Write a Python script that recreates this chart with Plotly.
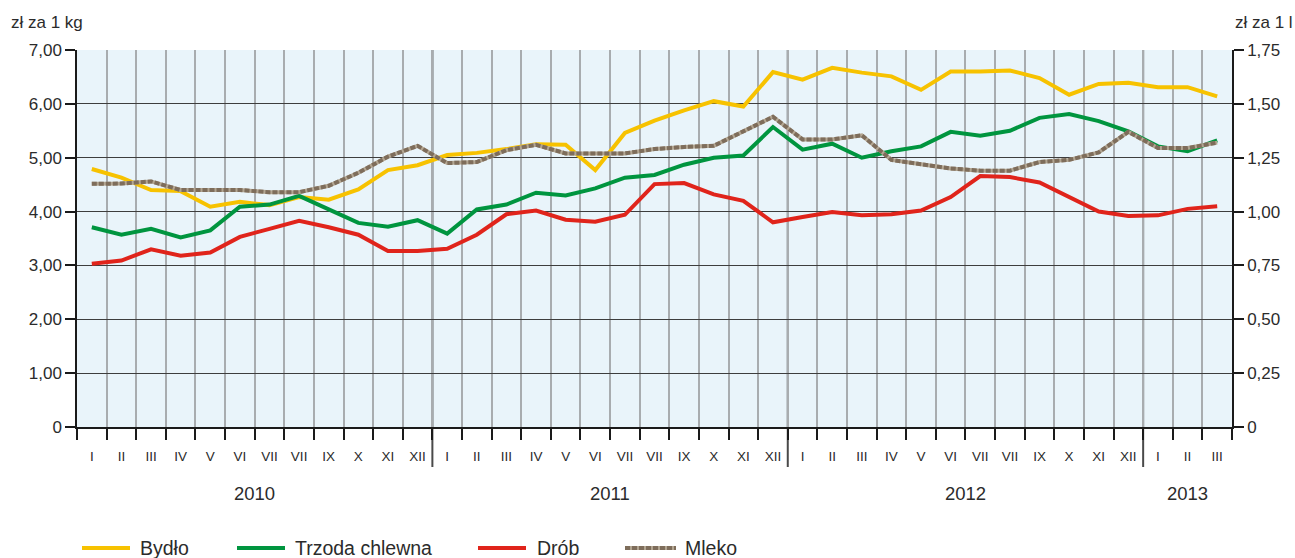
import plotly.graph_objects as go

# ---------------- data ----------------
months = ["I", "II", "III", "IV", "V", "VI", "VII", "VII", "IX", "X", "XI", "XII",
          "I", "II", "III", "IV", "V", "VI", "VII", "VII", "IX", "X", "XI", "XII",
          "I", "II", "III", "IV", "V", "VI", "VII", "VII", "IX", "X", "XI", "XII",
          "I", "II", "III"]
years = ["2010", "2011", "2012", "2013"]
months_per_year = [12, 12, 12, 3]

bydlo = [4.79, 4.63, 4.40, 4.38, 4.09, 4.18, 4.12, 4.27, 4.22, 4.41, 4.77, 4.86,
         5.05, 5.09, 5.16, 5.25, 5.24, 4.77, 5.46, 5.69, 5.88, 6.05, 5.95, 6.59,
         6.45, 6.67, 6.58, 6.51, 6.26, 6.60, 6.60, 6.62, 6.48, 6.17, 6.37, 6.39,
         6.31, 6.31, 6.14]
trzoda = [3.71, 3.57, 3.68, 3.52, 3.65, 4.09, 4.13, 4.29, 4.04, 3.79, 3.72, 3.84,
          3.59, 4.04, 4.13, 4.35, 4.30, 4.43, 4.63, 4.68, 4.87, 5.00, 5.04, 5.57,
          5.15, 5.26, 5.00, 5.12, 5.21, 5.48, 5.41, 5.50, 5.74, 5.81, 5.68, 5.49,
          5.21, 5.12, 5.32]
drob = [3.03, 3.09, 3.30, 3.18, 3.24, 3.53, 3.68, 3.83, 3.71, 3.57, 3.27, 3.27,
        3.31, 3.57, 3.95, 4.02, 3.85, 3.81, 3.94, 4.51, 4.53, 4.32, 4.20, 3.80,
        3.90, 3.99, 3.93, 3.95, 4.02, 4.27, 4.66, 4.64, 4.54, 4.27, 4.00, 3.92,
        3.93, 4.05, 4.10]
mleko = [1.129, 1.13, 1.14, 1.10, 1.10, 1.10, 1.09, 1.09, 1.12, 1.18, 1.255, 1.305,
         1.225, 1.23, 1.285, 1.31, 1.27, 1.27, 1.27, 1.29, 1.30, 1.305, 1.37, 1.44,
         1.335, 1.335, 1.354, 1.24, 1.22, 1.20, 1.19, 1.19, 1.23, 1.24, 1.275, 1.37,
         1.295, 1.295, 1.32]

left_ticks = [0, 1, 2, 3, 4, 5, 6, 7]
left_ticktext = ["0", "1,00", "2,00", "3,00", "4,00", "5,00", "6,00", "7,00"]
right_ticks = [0, 0.25, 0.5, 0.75, 1.0, 1.25, 1.5, 1.75]
right_ticktext = ["0", "0,25", "0,50", "0,75", "1,00", "1,25", "1,50", "1,75"]

series_names = ["Bydło", "Trzoda chlewna", "Drób", "Mleko"]

# ---------------- styles ----------------
C_BYDLO = "#f7c200"
C_TRZODA = "#00953f"
C_DROB = "#e0241b"
C_MLEKO_BASE = "#b3a692"
C_MLEKO_DOT = "#7e6d5b"
FONT = "Liberation Sans, Arial, sans-serif"
TXT = "#2b2b2b"

W, H = 1295, 558
ML, MR, MT, MB = 77, 63, 50, 131
PW = W - ML - MR
PH = H - MT - MB

x = list(range(len(months)))

fig = go.Figure()
fig.add_trace(go.Scatter(x=x, y=mleko, yaxis="y2", mode="lines",
                         line=dict(color=C_MLEKO_BASE, width=4), showlegend=False,
                         hoverinfo="skip"))
fig.add_trace(go.Scatter(x=x, y=mleko, yaxis="y2", mode="lines", name="Mleko",
                         line=dict(color=C_MLEKO_DOT, width=4, dash="5px,2px"),
                         showlegend=False))
fig.add_trace(go.Scatter(x=x, y=bydlo, mode="lines", name="Bydło",
                         line=dict(color=C_BYDLO, width=4), showlegend=False))
fig.add_trace(go.Scatter(x=x, y=trzoda, mode="lines", name="Trzoda chlewna",
                         line=dict(color=C_TRZODA, width=4), showlegend=False))
fig.add_trace(go.Scatter(x=x, y=drob, mode="lines", name="Drób",
                         line=dict(color=C_DROB, width=4), showlegend=False))

shapes = []
annotations = []

# year separators and year labels
start = 0
for yr, n in zip(years, months_per_year):
    end = start + n
    if end < len(months):
        shapes.append(dict(type="line", xref="x", yref="paper",
                           x0=end - 0.5, x1=end - 0.5, y0=-(467 - 427) / PH, y1=1,
                           line=dict(color="#4a4a4a", width=2), layer="below"))
    annotations.append(dict(text=yr, xref="x", yref="paper",
                            x=(start + end - 1) / 2, y=-(493 - 427) / PH,
                            showarrow=False, xanchor="center", yanchor="middle",
                            font=dict(family=FONT, size=18.5, color=TXT)))
    start = end

# axis unit titles
annotations.append(dict(text="zł za 1 kg", xref="paper", yref="paper",
                        x=(9 - ML) / PW, y=(427 - 23) / PH, showarrow=False,
                        xanchor="left", yanchor="middle",
                        font=dict(family=FONT, size=17, color=TXT)))
annotations.append(dict(text="zł za 1 l", xref="paper", yref="paper",
                        x=(1233 - ML) / PW, y=(427 - 23) / PH, showarrow=False,
                        xanchor="left", yanchor="middle",
                        font=dict(family=FONT, size=17, color=TXT)))

# manual legend
leg_y = -(548 - 427) / PH
leg_items = [(82, 130, 138, C_BYDLO), (237, 285, 293, C_TRZODA),
             (478, 526, 535, C_DROB), (625, 676, 683, C_MLEKO_DOT)]
for name, (x0, x1, xt, col) in zip(series_names, leg_items):
    if name == "Mleko":
        shapes.append(dict(type="line", xref="paper", yref="paper",
                           x0=(x0 - ML) / PW, x1=(x1 - ML) / PW, y0=leg_y, y1=leg_y,
                           line=dict(color=C_MLEKO_BASE, width=4)))
        shapes.append(dict(type="line", xref="paper", yref="paper",
                           x0=(x0 - ML) / PW, x1=(x1 - ML) / PW, y0=leg_y, y1=leg_y,
                           line=dict(color=C_MLEKO_DOT, width=4, dash="5px,2px")))
    else:
        shapes.append(dict(type="line", xref="paper", yref="paper",
                           x0=(x0 - ML) / PW, x1=(x1 - ML) / PW, y0=leg_y, y1=leg_y,
                           line=dict(color=col, width=4)))
    annotations.append(dict(text=name, xref="paper", yref="paper",
                            x=(xt - ML) / PW, y=leg_y, showarrow=False,
                            xanchor="left", yanchor="middle",
                            font=dict(family=FONT, size=19.5, color=TXT)))

fig.update_layout(
    width=W, height=H,
    margin=dict(l=ML, r=MR, t=MT, b=MB, pad=0),
    paper_bgcolor="white",
    plot_bgcolor="#e9f4fa",
    font=dict(family=FONT, color=TXT),
    showlegend=False,
    shapes=shapes,
    annotations=annotations,
    xaxis=dict(
        range=[-0.5, len(months) - 0.5],
        tickmode="array", tickvals=x, ticktext=months,
        ticks="outside", ticklen=16, tickcolor="rgba(0,0,0,0)",
        tickfont=dict(family=FONT, size=13.5, color=TXT),
        showgrid=False, zeroline=False,
        showline=True, linecolor="#1a1a1a", linewidth=1.5,
        minor=dict(tickmode="array", tickvals=[i - 0.5 for i in range(len(months) + 1)],
                   ticks="outside", ticklen=11, tickcolor="#1a1a1a", tickwidth=1.5,
                   showgrid=True, gridcolor="#a8acaf", gridwidth=1.5),
        fixedrange=True,
    ),
    yaxis=dict(
        range=[0, 7],
        tickmode="array", tickvals=left_ticks, ticktext=left_ticktext,
        ticks="outside", ticklen=10, tickcolor="#1a1a1a", tickwidth=1.5,
        tickfont=dict(family=FONT, size=17, color=TXT),
        showgrid=True, gridcolor="#3d3d3d", gridwidth=1,
        zeroline=False, showline=True, linecolor="#1a1a1a", linewidth=1.5,
    ),
    yaxis2=dict(
        range=[0, 1.75], overlaying="y", side="right",
        tickmode="array", tickvals=right_ticks, ticktext=right_ticktext,
        ticks="outside", ticklen=10, tickcolor="#1a1a1a", tickwidth=1.5,
        tickfont=dict(family=FONT, size=17, color=TXT),
        showgrid=False, zeroline=False,
        showline=True, linecolor="#1a1a1a", linewidth=1.5,
    ),
)

fig.write_html("out.html", config={"displayModeBar": False},
               post_script="document.body.style.margin='0';")
